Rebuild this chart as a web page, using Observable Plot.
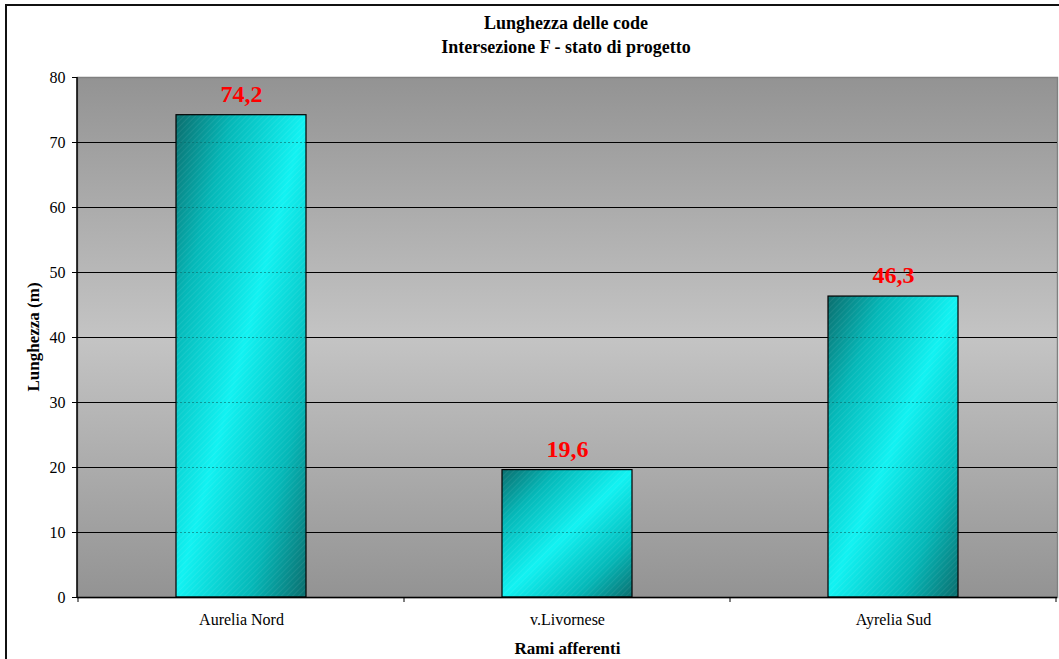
<!DOCTYPE html>
<html>
<head>
<meta charset="utf-8">
<script src="https://cdn.jsdelivr.net/npm/d3@7"></script>
<script src="https://cdn.jsdelivr.net/npm/@observablehq/plot@0.6"></script>
<style>
  html, body { margin: 0; padding: 0; background: #fff; overflow: hidden; }
  #wrap { position: relative; width: 1059px; height: 659px; overflow: hidden; font-family: "Liberation Serif", "Times New Roman", serif; }
  #border { position: absolute; left: 5px; top: 4px; width: 2000px; height: 2000px; border-left: 2px solid #111; border-top: 2px solid #111; box-sizing: border-box; }
  #title { position: absolute; left: 0; top: 11px; width: 1132px; text-align: center; font-weight: bold; font-size: 18px; line-height: 24px; color: #000; }
  #chart { position: absolute; left: 0; top: 62px; }
</style>
</head>
<body>
<div id="wrap">
  <div id="border"></div>
  <div id="title">Lunghezza delle code<br>Intersezione F - stato di progetto</div>
  <div id="chart"></div>
</div>
<script>
const categories = ["Aurelia Nord", "v.Livornese", "Ayrelia Sud"];
const values = [74.2, 19.6, 46.3];
const yTicks = [0, 10, 20, 30, 40, 50, 60, 70, 80];
const yLabel = "Lunghezza (m)";
const xLabel = "Rami afferenti";

const data = categories.map((c, i) => ({cat: c, value: values[i]}));
const gridInBars = [];
data.forEach(d => yTicks.forEach(t => { if (t > 0 && t < d.value) gridInBars.push({cat: d.cat, y: t}); }));
const fmt = v => d3.format(".1f")(v).replace(".", ",");

function defs() {
  const svg = d3.create("svg:defs");
  const bg = svg.append("linearGradient").attr("id", "bgGrad").attr("x1", 0).attr("y1", 0).attr("x2", 0).attr("y2", 1);
  bg.append("stop").attr("offset", "0%").attr("stop-color", "#939393");
  bg.append("stop").attr("offset", "50%").attr("stop-color", "#c4c4c4");
  bg.append("stop").attr("offset", "100%").attr("stop-color", "#939393");
  const bar = svg.append("linearGradient").attr("id", "barGrad").attr("x1", 0).attr("y1", 0).attr("x2", 1).attr("y2", 1);
  bar.append("stop").attr("offset", "0%").attr("stop-color", "#0b6e6e");
  bar.append("stop").attr("offset", "22%").attr("stop-color", "#05b8b8");
  bar.append("stop").attr("offset", "50%").attr("stop-color", "#12f2f2");
  bar.append("stop").attr("offset", "78%").attr("stop-color", "#05b8b8");
  bar.append("stop").attr("offset", "100%").attr("stop-color", "#0b6e6e");
  const pat = svg.append("pattern").attr("id", "hatch").attr("patternUnits", "userSpaceOnUse").attr("width", 4).attr("height", 4).attr("patternTransform", "rotate(45)");
  pat.append("rect").attr("width", 1).attr("height", 4).attr("fill", "#ffffff").attr("fill-opacity", 0.07);
  return svg.node();
}

function bandTicks(index, scales, values, dimensions) {
  const x = scales.x;
  const g = d3.create("svg:g");
  const y0 = dimensions.height - dimensions.marginBottom;
  const step = x.step ? x.step() : (dimensions.width - dimensions.marginLeft - dimensions.marginRight) / categories.length;
  const bw = x.bandwidth ? x.bandwidth() : 0;
  const edges = categories.map(c => x(c) + bw / 2 - step / 2);
  edges.push(edges[edges.length - 1] + step);
  edges.forEach(e => g.append("line").attr("x1", e).attr("x2", e).attr("y1", y0).attr("y2", y0 + 5).attr("stroke", "#000"));
  return g.node();
}

const chart = Plot.plot({
  width: 1059,
  height: 597,
  marginTop: 15,
  marginBottom: 62,
  marginLeft: 77,
  marginRight: 2,
  style: {fontFamily: "'Liberation Serif', 'Times New Roman', serif", fontSize: "16px", color: "#000", background: "transparent", overflow: "visible"},
  x: {type: "band", domain: categories, paddingInner: 0.6, paddingOuter: 0.3, label: null},
  y: {domain: [0, 80], label: null},
  marks: [
    defs,
    Plot.frame({fill: "url(#bgGrad)", stroke: "#808080", strokeWidth: 1.5}),
    Plot.ruleY(yTicks.filter(t => t > 0 && t < 80), {stroke: "#000", strokeWidth: 1}),
    Plot.barY(data, {x: "cat", y: "value", fill: "url(#barGrad)"}),
    Plot.barY(data, {x: "cat", y: "value", fill: "url(#hatch)"}),
    Plot.tickY(gridInBars, {x: "cat", y: "y", stroke: "#0a6a6a", strokeOpacity: 0.6, strokeDasharray: "2,2"}),
    Plot.barY(data, {x: "cat", y: "value", fill: "none", stroke: "#000", strokeWidth: 1.2}),
    Plot.ruleY([0], {stroke: "#000", strokeWidth: 1.5}),
    Plot.axisY({ticks: yTicks, tickSize: 5, tickPadding: 7, fontSize: 16, label: null, stroke: "#000", fill: "#000"}),
    Plot.axisX({tickSize: 0, tickPadding: 16, fontSize: 16, label: null, fill: "#000"}),
    bandTicks,
    Plot.text(data, {x: "cat", y: "value", text: d => fmt(d.value), dy: -21, fill: "#ff0000", fontSize: 24, fontWeight: "bold"}),
    Plot.text([xLabel], {frameAnchor: "bottom", dy: 56, fontWeight: "bold", fontSize: 17, fill: "#000", text: d => d})
  ]
});
document.getElementById("chart").appendChild(chart);

const svg = d3.select(chart);
svg.selectAll("[aria-label$='tick label']").attr("font-size", 16).selectAll("text").attr("font-size", 16);
svg.append("line").attr("x1", 77).attr("x2", 77).attr("y1", 15).attr("y2", 535).attr("stroke", "#000").attr("stroke-width", 1.5);
svg.append("text").attr("transform", "translate(35,275) rotate(-90)").attr("text-anchor", "middle").attr("dominant-baseline", "middle")
  .attr("font-weight", "bold").attr("font-size", 17).attr("fill", "#000").text(yLabel);
</script>
</body>
</html>
